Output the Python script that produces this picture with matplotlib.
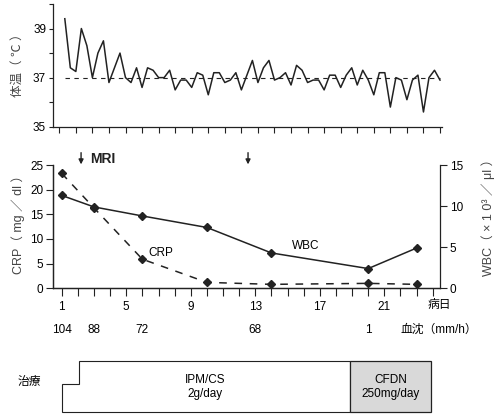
import numpy as np
import matplotlib
matplotlib.use("Agg")
from matplotlib import pyplot as plt
from matplotlib.patches import Polygon, Rectangle
import matplotlib.transforms as mtransforms

plt.rcParams['font.family'] = ['Liberation Sans', 'Noto Sans CJK JP', 'DejaVu Sans']
plt.rcParams['font.size'] = 8.5

# body temperature, three readings per day
temp = [39.4, 37.4, 37.25, 39.0, 38.3, 37.0, 38.0, 38.5, 36.8, 37.4,
        38.0, 37.0, 36.8, 37.4, 36.6, 37.4, 37.3, 37.0, 37.0, 37.3,
        36.5, 36.9, 36.9, 36.6, 37.2, 37.1, 36.3, 37.2, 37.2, 36.8,
        36.9, 37.2, 36.5, 37.1, 37.7, 36.8, 37.4, 37.7, 36.9, 37.0,
        37.2, 36.7, 37.5, 37.3, 36.8, 36.9, 36.9, 36.5, 37.1, 37.1,
        36.6, 37.1, 37.4, 36.7, 37.3, 36.9, 36.3, 37.2, 37.2, 35.8,
        37.0, 36.9, 36.1, 36.9, 37.1, 35.6, 37.0, 37.3, 36.9]
temp_t = 1 + np.arange(1, len(temp) + 1) / 3

# labs
lab_days = [1, 3, 6, 10, 14, 20, 23]
crp = [23.3, 16.3, 5.9, 1.2, 0.8, 1.0, 0.8]
wbc = [11.3, 9.9, 8.8, 7.4, 4.3, 2.4, 4.9]

esr_days = [1, 3, 6, 13, 20]
esr = [104, 88, 72, 68, 1]

day_ticks = list(range(1, 25))
day_labels = ['1', '', '', '', '5', '', '', '', '9', '', '', '', '13', '', '', '',
              '17', '', '', '', '21', '', '', '']

mri_days = [2.2, 12.55]

ipm_start, ipm_step, cfdn_start, cfdn_end = 1, 2.05, 18.85, 23.9

W, H = 504, 415
fig = plt.figure(figsize=(W / 100, H / 100), dpi=100)
col = '#222222'
lblcol = '#444444'

def frac(x0, y0, x1, y1):
    # pixel box -> figure fraction
    return [x0 / W, 1 - y1 / H, (x1 - x0) / W, (y1 - y0) / H]

# ---- temperature
ax1 = fig.add_axes(frac(53, 4, 442, 126.7))
ax1.plot(temp_t, temp, color=col, lw=1.1)
ax1.plot([1.35, 24], [37, 37], color=col, lw=0.8, dashes=(4, 4))
ax1.set_xlim(0.62, 24.12)
ax1.set_ylim(35, 40)
ax1.set_xticks(day_ticks)
ax1.set_xticklabels([])
ax1.set_yticks([35, 36, 37, 38, 39, 40])
ax1.set_yticklabels(['35', '', '37', '', '39', ''])
ax1.tick_params(axis='x', length=4, width=0.8, color=col)
ax1.tick_params(axis='y', length=3, width=0.8, pad=2, color=col)
for s in ['top', 'right']:
    ax1.spines[s].set_visible(False)
for s in ['left', 'bottom']:
    ax1.spines[s].set_color(col)
    ax1.spines[s].set_linewidth(0.9)
fig.text(18 / W, 1 - 62 / H, '体温（ ℃ ）', rotation=90, ha='center', va='center',
         fontsize=9, color=lblcol)

# ---- CRP / WBC
ax2 = fig.add_axes(frac(53, 165, 440, 288.3))
ax2.plot(lab_days, crp, color=col, lw=1.1, dashes=(5, 5), marker='D', ms=4.5)
ax2.set_xlim(0.46, 24.45)
ax2.set_ylim(0, 25)
ax2.set_yticks([0, 5, 10, 15, 20, 25])
ax2.set_xticks(day_ticks)
ax2.set_xticklabels(day_labels)
ax2.tick_params(axis='x', length=6, width=0.8, pad=3, color=col)
ax2.tick_params(axis='y', length=5, width=0.8, pad=2, color=col)
ax2.spines['top'].set_visible(False)
ax2.spines['right'].set_visible(False)

ax2r = ax2.twinx()
ax2r.plot(lab_days, wbc, color=col, lw=1.1, marker='D', ms=4.5)
ax2r.set_ylim(0, 15)
ax2r.set_yticks([0, 5, 10, 15])
ax2r.tick_params(axis='y', length=5, width=0.8, pad=2, color=col)
ax2r.spines['top'].set_visible(False)
for a in (ax2, ax2r):
    for s in ['left', 'bottom', 'right']:
        a.spines[s].set_color(col)
        a.spines[s].set_linewidth(0.9)

ax2.text(6.4, 6.6, 'CRP', fontsize=8.5)
ax2.text(15.3, 8.0, 'WBC', fontsize=8.5)

bt = mtransforms.blended_transform_factory(ax2.transData, ax2.transAxes)
for d in mri_days:
    ax2.annotate('', xy=(d, 1.005), xytext=(d, 1.1), xycoords=bt, textcoords=bt,
                 arrowprops=dict(arrowstyle='-|>', color=col, lw=1.0,
                                 mutation_scale=7, shrinkA=0, shrinkB=0),
                 annotation_clip=False)
ax2.text(2.75, 1.05, 'MRI', transform=bt, fontsize=10, fontweight='bold',
         va='center', color=col)

# day label at the last tick
ax2.text(24.4, -0.135, '病日', transform=bt, ha='center', va='center', fontsize=8.5)

for d, v in zip(esr_days, esr):
    ax2.text(d, -0.338, str(v), transform=bt, ha='center', va='center', fontsize=8.5)
ax2.text(22.0, -0.338, '血沈（mm/h）', transform=bt, ha='left', va='center', fontsize=8.5)

fig.text(18 / W, 1 - 222 / H, 'CRP（ mg ／ dl ）', rotation=90, ha='center', va='center',
         fontsize=9, color=lblcol)
fig.text(488 / W, 1 - 214 / H, 'WBC（ × 1 0³ ／ μl ）', rotation=90, ha='center',
         va='center', fontsize=9, color=lblcol)

# ---- treatment
ax3 = fig.add_axes(frac(53, 355, 440, 415))
ax3.set_xlim(0.46, 24.45)
ax3.set_ylim(0, 60)
ax3.axis('off')
ax3.add_patch(Polygon([(ipm_start, 3), (ipm_start, 31), (ipm_step, 31), (ipm_step, 54),
                       (cfdn_start, 54), (cfdn_start, 3)], closed=True,
                      facecolor='white', edgecolor=col, lw=0.8))
ax3.add_patch(Rectangle((cfdn_start, 3), cfdn_end - cfdn_start, 51,
                        facecolor='#d9d9d9', edgecolor=col, lw=0.9))
ax3.text(9.9, 28, 'IPM/CS\n2g/day', ha='center', va='center', fontsize=8.5,
         linespacing=1.3)
ax3.text((cfdn_start + cfdn_end) / 2, 28, 'CFDN\n250mg/day', ha='center', va='center',
         fontsize=8.5, linespacing=1.3)
fig.text(29 / W, 1 - 382 / H, '治療', ha='center', va='center', fontsize=8.5)

fig.savefig('out.png', dpi=100)
